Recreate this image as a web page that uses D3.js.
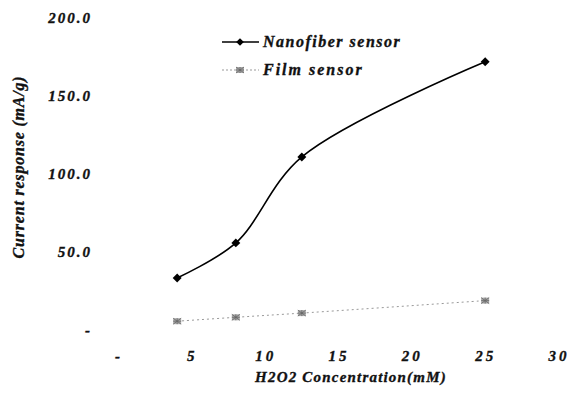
<!DOCTYPE html>
<html>
<head>
<meta charset="utf-8">
<script src="https://cdn.jsdelivr.net/npm/d3@7"></script>
<style>
  body { margin: 0; background: #fff; }
  text { font-family: "Liberation Serif", "DejaVu Serif", serif; font-weight: bold; font-style: italic; fill: #111; stroke: #111; stroke-width: 0.35px; }
</style>
</head>
<body>
<svg width="570" height="397"></svg>
<script>
var concentration = [4, 8, 12.5, 25];
var nanofiber = [32.7, 55.2, 110.3, 171.3];
var film = [5.0, 7.5, 10.2, 18.2];
var xTicks = [0, 5, 10, 15, 20, 25, 30];
var yTicks = [0, 50, 100, 150, 200];

var svg = d3.select("svg");

var x = d3.scaleLinear().domain([0, 30]).range([118.5, 558.5]);
var y = d3.scaleLinear().domain([0, 200]).range([329, 17]);

// axis labels only, no lines (like the original)
var yAxis = svg.append("g")
    .attr("transform", "translate(92,0)")
    .call(d3.axisLeft(y).tickValues(yTicks).tickSize(0).tickPadding(0)
      .tickFormat(d => d === 0 ? "-" : d3.format(".1f")(d)));
yAxis.select(".domain").remove();
yAxis.selectAll("text")
    .attr("font-family", null)
    .style("font-size", "15px")
    .style("letter-spacing", "2px")
    .attr("dy", "0.35em");

var xAxis = svg.append("g")
    .attr("transform", "translate(0,356)")
    .call(d3.axisBottom(x).tickValues(xTicks).tickSize(0).tickPadding(0)
      .tickFormat(d => d === 0 ? "-" : d));
xAxis.select(".domain").remove();
xAxis.selectAll("text")
    .attr("font-family", null)
    .style("font-size", "15px")
    .style("letter-spacing", "3px")
    .attr("dy", "0.35em");

svg.append("text")
    .attr("x", 351).attr("y", 382)
    .attr("text-anchor", "middle")
    .style("font-size", "15px")
    .style("letter-spacing", "1.2px")
    .text("H2O2 Concentration(mM)");

svg.append("text")
    .attr("transform", "translate(24,167) rotate(-90)")
    .attr("text-anchor", "middle")
    .style("font-size", "16px")
    .style("letter-spacing", "0.8px")
    .text("Current response (mA/g)");

// series
var nanoData = concentration.map((c, i) => [c, nanofiber[i]]);
var filmData = concentration.map((c, i) => [c, film[i]]);

var line = d3.line()
    .x(d => x(d[0]))
    .y(d => y(d[1]))
    .curve(d3.curveCatmullRom.alpha(0.5));

svg.append("path")
    .datum(filmData)
    .attr("fill", "none")
    .attr("stroke", "#999")
    .attr("stroke-width", 1)
    .attr("stroke-dasharray", "2,3")
    .attr("d", line);

svg.append("path")
    .datum(nanoData)
    .attr("fill", "none")
    .attr("stroke", "#000")
    .attr("stroke-width", 1.6)
    .attr("d", line);

svg.selectAll(".nano")
    .data(nanoData)
    .enter().append("path")
    .attr("class", "nano")
    .attr("transform", d => "translate(" + x(d[0]) + "," + y(d[1]) + ") rotate(45)")
    .attr("d", d3.symbol().type(d3.symbolSquare).size(40))
    .attr("fill", "#000");

function filmMarker(g) {
  g.append("rect").attr("x", -4).attr("y", -3).attr("width", 8).attr("height", 6)
    .attr("fill", "#aaa");
  g.append("path").attr("d", "M-4,-3L4,3M-4,3L4,-3M0,-3V3M-4,0H4")
    .attr("stroke", "#666").attr("stroke-width", 0.8);
}

svg.selectAll(".film")
    .data(filmData)
    .enter().append("g")
    .attr("class", "film")
    .attr("transform", d => "translate(" + x(d[0]) + "," + y(d[1]) + ")")
    .call(filmMarker);

// legend
var legend = svg.append("g");
legend.append("line").attr("x1", 222).attr("x2", 259).attr("y1", 42).attr("y2", 42)
    .attr("stroke", "#000").attr("stroke-width", 1.6);
legend.append("path").attr("transform", "translate(240,42) rotate(45)")
    .attr("d", d3.symbol().type(d3.symbolSquare).size(30)).attr("fill", "#000");
legend.append("text").attr("x", 263).attr("y", 47)
    .style("font-size", "16px").style("letter-spacing", "1.5px")
    .text("Nanofiber sensor");

legend.append("line").attr("x1", 222).attr("x2", 259).attr("y1", 70).attr("y2", 70)
    .attr("stroke", "#999").attr("stroke-dasharray", "2,2");
legend.append("g").attr("transform", "translate(240,70)").call(filmMarker);
legend.append("text").attr("x", 263).attr("y", 75)
    .style("font-size", "16px").style("letter-spacing", "2px")
    .text("Film sensor");
</script>
</body>
</html>
